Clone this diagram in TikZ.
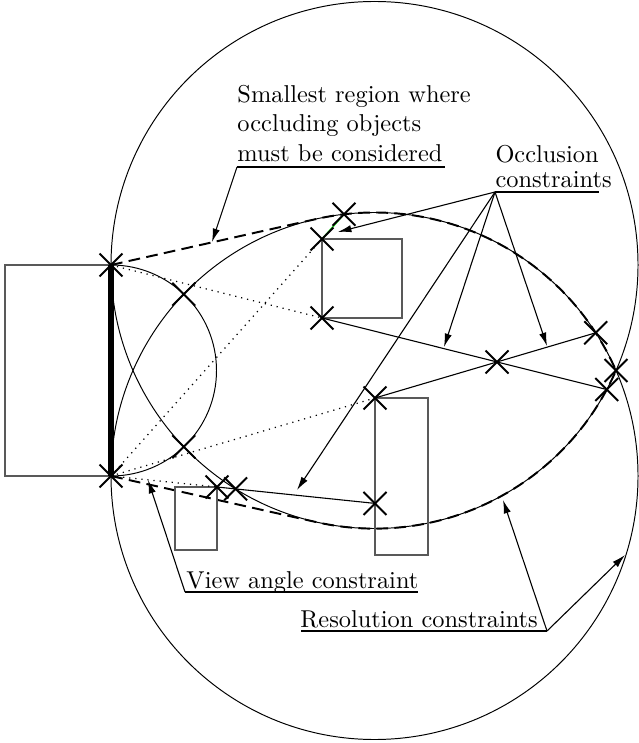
\documentclass[tikz,border=0pt]{standalone}
\usetikzlibrary{arrows.meta,shapes.misc,calc}
\definecolor{glint}{RGB}{30,210,30}
\begin{document}
\begin{tikzpicture}[x=0.41pt,y=-0.41pt,
  thinline/.style={line width=0.4pt},
  obstacle/.style={draw=black!65,line width=0.45pt},
  hit/.style={draw,cross out,minimum size=8.6pt,inner sep=0pt,line width=0.8pt},
  sight/.style={dotted,line width=0.5pt},
  ray/.style={line width=0.45pt},
  hull/.style={dash pattern=on 4.8pt off 2.6pt,line width=0.8pt},
  pointer/.style={line width=0.45pt,-{Latex[length=5.5pt,width=3pt]}},
  uline/.style={line width=1.1pt},
  lbl/.style={inner sep=0pt,anchor=base west}]
\useasboundingbox (0,0) rectangle (638,743);

% target segment ends and circle centres
\coordinate (E1) at (111,265);
\coordinate (E2) at (111,476);
\coordinate (C1) at (374.5,265);
\coordinate (C2) at (374.5,476);
% obstacle corners
\coordinate (A1) at (322,239);
\coordinate (A2) at (322,318);
\coordinate (B1) at (375,398);
\coordinate (K1) at (217,487);
% intersection points
\coordinate (B2) at (375,503.4);
\coordinate (K2) at (235.6,488.9);
\coordinate (S1) at (183.8,294.2);
\coordinate (S2) at (183.8,446.8);
\coordinate (T)  at (344,214.3);
\coordinate (R1) at (595.7,332.8);
\coordinate (R2) at (616,370.5);
\coordinate (R3) at (606.7,389.5);
\coordinate (X)  at (intersection of A2--R3 and B1--R1);

% resolution circles and view angle arc
\draw[thinline] (C1) circle[radius=263.5];
\draw[thinline] (C2) circle[radius=263.5];
\draw[thinline] (E1) arc[start angle=-90,end angle=90,radius=105.5];

% hull of the region to be searched for occluders
\draw[hull] (E1) -- ($(C2)+(257.38:263.5)$)
  arc[start angle=257.38,end angle=336.41,radius=263.5]
  arc[start angle=23.59,end angle=102.62,radius=263.5] -- (E2);

% obstacles
\draw[obstacle] (5,265) rectangle (E2);
\draw[obstacle] (A1) rectangle (402,318);
\draw[obstacle] (B1) rectangle (428,555);
\draw[obstacle] (175,550) rectangle (K1);

% target
\draw[line width=2.2pt] (E1) -- (E2);

% lines of sight
\draw[sight] (E1) -- (A2);
\draw[sight] (E2) -- (A1);
\draw[sight] (E2) -- (B1);
\draw[sight] (E2) -- (K1);
\draw[ray] (A2) -- (R3);
\draw[ray] (B1) -- (R1);
\draw[ray] (K1) -- (B2);
\draw[ray,draw=glint,line width=0.6pt] (A1) -- (T);

% marked points
\foreach \p in {E1,E2,S1,S2,T,A1,A2,X,R1,R2,R3,B1,B2,K1,K2}
  \node[hit] (x\p) at (\p) {};

% labels
\node[lbl] (reg1) at (237,103) {Smallest region where};
\node[lbl] (reg2) at (237,132) {occluding objects};
\node[lbl] (reg3) at (237,162) {must be considered};
\node[lbl] (occ1) at (495,163) {Occlusion};
\node[lbl] (occ2) at (495,188) {constraints};
\node[lbl] (view) at (186,588) {View angle constraint};
\node[lbl] (res)  at (300,627) {Resolution constraints};

% underlines
\coordinate (regU1) at (237,167);  \coordinate (regU2) at (445,167);
\coordinate (occU1) at (495,192);  \coordinate (occU2) at (599,192);
\coordinate (viewU1) at (185,592); \coordinate (viewU2) at (418,592);
\coordinate (resU1) at (301,631);  \coordinate (resU2) at (547,631);
\draw[uline] (regU1) -- (regU2);
\draw[uline] (occU1) -- (occU2);
\draw[uline] (viewU1) -- (viewU2);
\draw[uline] (resU1) -- (resU2);

% pointer tips
\coordinate (regTip) at (212,242);
\coordinate (occTipA) at (338,232);
\coordinate (occTipB) at (444,347);
\coordinate (occTipC) at (547,346);
\coordinate (occTipD) at (297,490);
\coordinate (viewTip) at (148,480);
\coordinate (resTipA) at (503,500);
\coordinate (resTipB) at (625,555);

\draw[pointer] (regU1) -- (regTip);
\draw[pointer] (occU1) -- (occTipA);
\draw[pointer] (occU1) -- (occTipB);
\draw[pointer] (occU1) -- (occTipC);
\draw[pointer] (occU1) -- (occTipD);
\draw[pointer] (viewU1) -- (viewTip);
\draw[pointer] (resU2) -- (resTipA);
\draw[pointer] (resU2) -- (resTipB);
\end{tikzpicture}
\end{document}
